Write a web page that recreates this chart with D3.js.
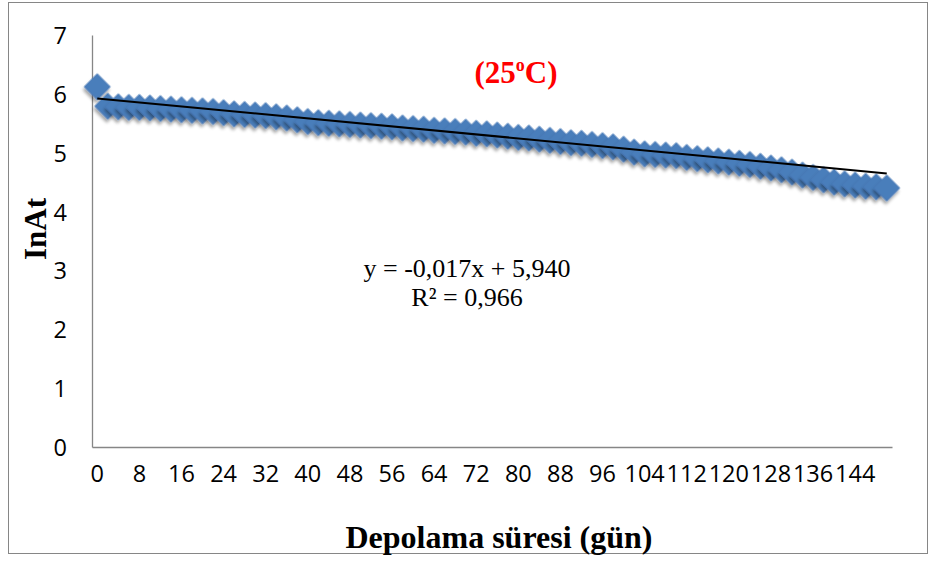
<!DOCTYPE html>
<html>
<head>
<meta charset="utf-8">
<script src="https://cdn.jsdelivr.net/npm/d3@7"></script>
<style>
  html, body { margin: 0; padding: 0; background: #fff; }
  svg { display: block; }
</style>
</head>
<body>
<svg id="chart" width="935" height="561"></svg>
<script>
// Storage day for each measurement (days)
const days = [
  0, 2, 4, 6, 8, 10, 12, 14, 16, 18, 20, 22, 24, 26, 28, 30, 32, 34, 36, 38,
  40, 42, 44, 46, 48, 50, 52, 54, 56, 58, 60, 62, 64, 66, 68, 70, 72, 74, 76, 78,
  80, 82, 84, 86, 88, 90, 92, 94, 96, 98, 100, 102, 104, 106, 108, 110, 112, 114, 116, 118,
  120, 122, 124, 126, 128, 130, 132, 134, 136, 138, 140, 142, 144, 146, 148, 150
];

// ln(At) measured on each day at 25 °C
const lnAt = [
  6.12, 5.79, 5.78, 5.77, 5.77, 5.76, 5.75, 5.74, 5.73, 5.72,
  5.71, 5.70, 5.68, 5.66, 5.65, 5.64, 5.63, 5.61, 5.59, 5.56,
  5.53, 5.51, 5.50, 5.49, 5.48, 5.47, 5.46, 5.45, 5.44, 5.42,
  5.41, 5.40, 5.38, 5.37, 5.36, 5.35, 5.33, 5.32, 5.30, 5.28,
  5.26, 5.25, 5.23, 5.21, 5.19, 5.17, 5.16, 5.14, 5.12, 5.10,
  5.06, 5.01, 4.98, 4.97, 4.96, 4.95, 4.92, 4.90, 4.88, 4.86,
  4.84, 4.82, 4.80, 4.77, 4.74, 4.71, 4.67, 4.62, 4.58, 4.54,
  4.50, 4.47, 4.45, 4.43, 4.42, 4.40
];

// Labelled days on the horizontal axis
const xTickLabels = [0, 8, 16, 24, 32, 40, 48, 56, 64, 72, 80, 88, 96, 104, 112, 120, 128, 136, 144];
// Vertical axis ticks
const yTicks = [0, 1, 2, 3, 4, 5, 6, 7];

// Linear trend: y = slope * n + intercept, n = 1..N (point number)
const trendSlope = -0.017;
const trendIntercept = 5.940;
const trendLabel = ["y = -0,017x + 5,940", "R\u00B2 = 0,966"];

const svg = d3.select("#chart");

// Outer chart border
svg.append("rect")
  .attr("x", 8.5).attr("y", 2.5)
  .attr("width", 919).attr("height", 551)
  .attr("fill", "#fff")
  .attr("stroke", "#868686")
  .attr("stroke-width", 1);

const plot = { left: 92, right: 892, top: 35, bottom: 447 };

const x = d3.scaleBand()
  .domain(days)
  .range([plot.left, plot.right])
  .paddingInner(0).paddingOuter(0);
const cx = d => x(d) + x.bandwidth() / 2;

const y = d3.scaleLinear()
  .domain([0, 7])
  .range([plot.bottom, plot.top]);

// Marker shadow
const defs = svg.append("defs");
const f = defs.append("filter").attr("id", "mshadow")
  .attr("x", "-50%").attr("y", "-50%").attr("width", "200%").attr("height", "200%");
f.append("feDropShadow")
  .attr("dx", 1.5).attr("dy", 3)
  .attr("stdDeviation", 1.8)
  .attr("flood-color", "#000")
  .attr("flood-opacity", 0.35);

const tickFont = "'Open Sans', sans-serif";

// Axes (lines only, no tick marks)
const yAxis = d3.axisLeft(y).tickValues(yTicks).tickSize(0).tickPadding(25).tickFormat(d3.format("d"));
const gy = svg.append("g").attr("transform", `translate(${plot.left},0)`).call(yAxis);
gy.select(".domain").attr("stroke", "#868686").attr("stroke-width", 1.3);
gy.selectAll("text")
  .attr("font-family", tickFont)
  .attr("font-size", 23.5)
  .attr("fill", "#000")
  .attr("dy", "0.36em");

const xAxis = d3.axisBottom(x)
  .tickValues(xTickLabels)
  .tickSize(0)
  .tickPadding(20);
const gx = svg.append("g").attr("transform", `translate(0,${plot.bottom})`).call(xAxis);
gx.select(".domain").attr("stroke", "#868686").attr("stroke-width", 1.3);
gx.selectAll("text")
  .attr("font-family", tickFont)
  .attr("font-size", 23.5)
  .attr("fill", "#000")
  .attr("dy", "0.62em");

// Diamond markers
const diamond = d3.symbol().type(d3.symbolSquare).size(340);
svg.append("g")
  .selectAll("path")
  .data(days.map((d, i) => ({ day: d, v: lnAt[i] })))
  .join("path")
  .attr("d", diamond)
  .attr("transform", d => `translate(${cx(d.day)},${y(d.v)}) rotate(45)`)
  .attr("fill", "#4A7EBB")
  .attr("stroke", "#4677B5")
  .attr("stroke-width", 0.6)
  .attr("filter", "url(#mshadow)");

// Trend line from first to last point
const n = days.length;
const trendPts = [
  [cx(days[0]), y(trendIntercept + trendSlope * 1)],
  [cx(days[n - 1]), y(trendIntercept + trendSlope * n)]
];
svg.append("path")
  .attr("d", d3.line()(trendPts))
  .attr("stroke", "#000")
  .attr("stroke-width", 2)
  .attr("fill", "none");

// Trend equation
const eq = svg.append("text")
  .attr("font-family", "'Liberation Serif', 'Times New Roman', serif")
  .attr("font-size", 26)
  .attr("fill", "#000")
  .attr("text-anchor", "middle");
eq.append("tspan").attr("x", 467).attr("y", 277).text(trendLabel[0]);
eq.append("tspan").attr("x", 467).attr("y", 306).text(trendLabel[1]);

// Temperature title
const t = svg.append("text")
  .attr("x", 516).attr("y", 83)
  .attr("text-anchor", "middle")
  .attr("font-family", "'Liberation Serif', 'Times New Roman', serif")
  .attr("font-weight", "bold")
  .attr("font-size", 31)
  .attr("fill", "#FF0000");
t.append("tspan").text("(25");
t.append("tspan").attr("font-size", 18).attr("dy", -12).text("o");
t.append("tspan").attr("dy", 12).text("C)");

// Axis titles
svg.append("text")
  .attr("x", 499).attr("y", 548)
  .attr("text-anchor", "middle")
  .attr("font-family", "'Liberation Serif', 'Times New Roman', serif")
  .attr("font-weight", "bold")
  .attr("font-size", 32)
  .attr("fill", "#000")
  .text("Depolama süresi (gün)");

svg.append("text")
  .attr("transform", "translate(46,229) rotate(-90)")
  .attr("text-anchor", "middle")
  .attr("font-family", "'Liberation Serif', 'Times New Roman', serif")
  .attr("font-weight", "bold")
  .attr("font-size", 31)
  .attr("fill", "#000")
  .text("InAt");
</script>
</body>
</html>
